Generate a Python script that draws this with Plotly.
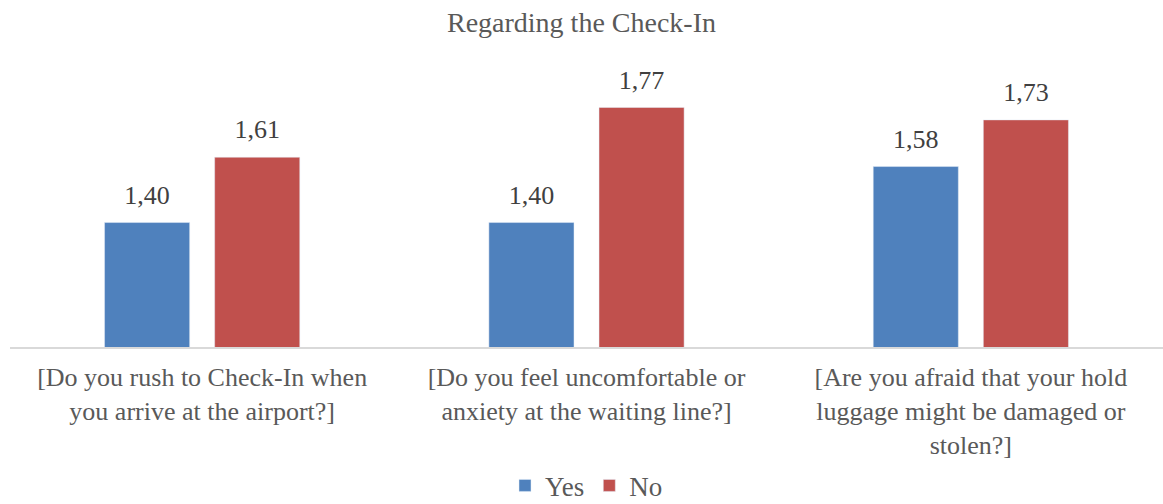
import plotly.graph_objects as go

categories = [
    "[Do you rush to Check-In when<br>you arrive at the airport?]",
    "[Do you feel uncomfortable or<br>anxiety at the waiting line?]",
    "[Are you afraid that your hold<br>luggage might be damaged or<br>stolen?]",
]
yes_values = [1.40, 1.40, 1.58]
no_values = [1.61, 1.77, 1.73]

FONT = "'Liberation Serif', 'Times New Roman', serif"
TXT = "#595959"
LBL = "#404040"

fig = go.Figure()
for name, vals, col in [("Yes", yes_values, "#4F81BD"), ("No", no_values, "#C0504D")]:
    fig.add_trace(go.Bar(name=name, x=categories, y=vals, marker_color=col,
                         offsetgroup=name, alignmentgroup="a"))
for name, vals in [("Yes", yes_values), ("No", no_values)]:
    fig.add_trace(go.Scatter(x=categories, y=vals, mode="markers+text", showlegend=False,
                             offsetgroup=name, alignmentgroup="a",
                             marker=dict(size=18, opacity=0), hoverinfo="skip",
                             texttemplate="%{y:.2f}", textposition="top center",
                             textfont=dict(size=26, color=LBL, family=FONT), cliponaxis=False))

fig.update_layout(
    width=1163, height=504,
    separators=", ",
    paper_bgcolor="white", plot_bgcolor="white",
    font=dict(family=FONT, color=TXT),
    title=dict(text="Regarding the Check-In", x=0.5, xanchor="center", y=0.955, yanchor="middle",
               font=dict(size=28, color=TXT, family=FONT)),
    margin=dict(l=10, r=0, t=67, b=157, autoexpand=False),
    barmode="group", bargap=0.427, bargroupgap=0.227,
    scattermode="group", scattergap=0.427,
    showlegend=True,
    legend=dict(orientation="h", x=0.5, xanchor="center", yref="container", y=0.036, yanchor="middle",
                font=dict(size=27, color=TXT, family=FONT), itemwidth=30,
                traceorder="normal"),
    xaxis=dict(showline=True, linecolor="#D9D9D9", linewidth=2, ticks="", automargin=False,
               ticklabelstandoff=6,
               tickfont=dict(size=26, color=TXT, family=FONT)),
    yaxis=dict(range=[1.0, 1.9], visible=False, showgrid=False, zeroline=False, automargin=False),
)

fig.write_html("out.html")
